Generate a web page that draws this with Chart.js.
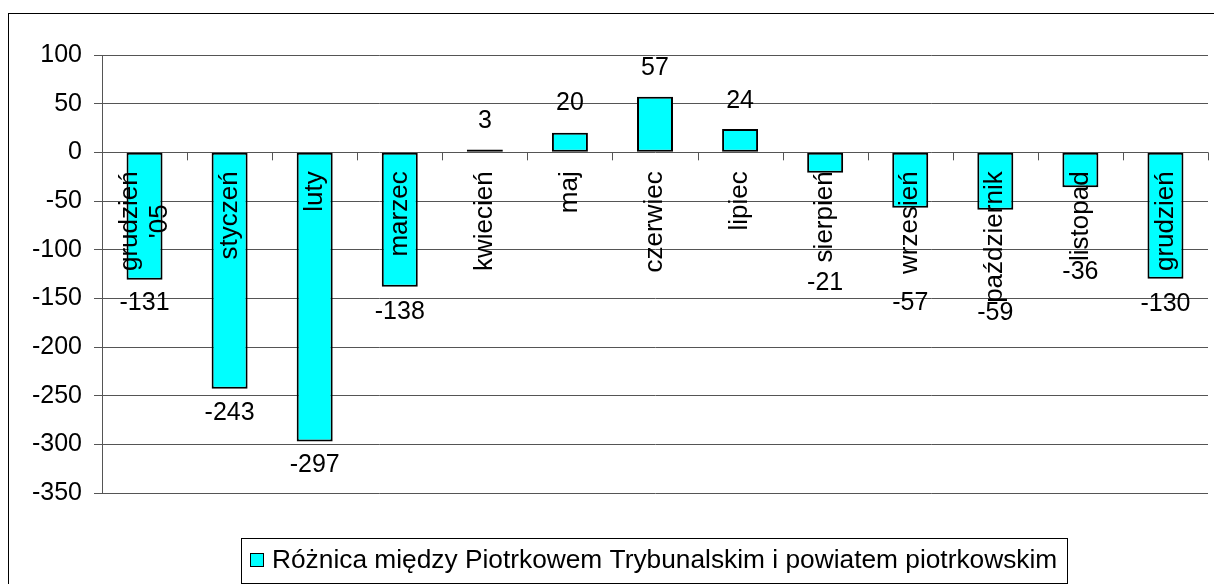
<!DOCTYPE html>
<html><head><meta charset="utf-8">
<script src="https://cdn.jsdelivr.net/npm/chart.js@4.4.1/dist/chart.umd.min.js"></script>
<style>html,body{margin:0;padding:0;background:#fff}#wrap{width:1214px;height:584px;position:relative}</style>
</head><body><div id="wrap"><canvas id="c" width="1214" height="584"></canvas></div>
<script>
// ---- data ----
const categories = [["grudzień", "'05"], "styczeń", "luty", "marzec", "kwiecień", "maj", "czerwiec", "lipiec", "sierpień", "wrzesień", "październik", "listopad", "grudzień"];
const values = [-131, -243, -297, -138, 3, 20, 57, 24, -21, -57, -59, -36, -130];
const seriesLabel = "Różnica między Piotrkowem Trybunalskim i powiatem piotrkowskim";
const yMin = -350, yMax = 100, yStep = 50;

// ---- label placement (pixel offsets of value labels from bar ends) ----
const valueLabelOffsets = [23, 24.5, 24, 25, -28, -29.5, -28.5, -28, 110.5, 95.5, 103.5, 84.5, 25.5];

const FONT = 'Liberation Sans, Arial, sans-serif';
const GRID = '#555555';

const decor = {
  id: 'decor',
  beforeDraw(chart) {
    const ctx = chart.ctx;
    ctx.save();
    ctx.fillStyle = '#fff';
    ctx.fillRect(0, 0, chart.width, chart.height);
    ctx.strokeStyle = '#000';
    ctx.lineWidth = 1;
    ctx.strokeRect(8.5, 13.5, 1400, 800);
    ctx.restore();
  },
  afterDatasetsDraw(chart) {
    const ctx = chart.ctx;
    const xs = chart.scales.x, ys = chart.scales.y;
    const y0 = ys.getPixelForValue(0);
    const n = categories.length;
    ctx.save();
    // category tick marks on zero line
    ctx.strokeStyle = GRID;
    ctx.lineWidth = 1;
    const cw = (xs.right - xs.left) / n;
    ctx.beginPath();
    for (let i = 1; i <= n; i++) {
      const x = Math.round(xs.left + cw * i) + 0.5;
      ctx.moveTo(x, y0);
      ctx.lineTo(x, y0 + 8);
    }
    ctx.stroke();
    // category labels, rotated
    ctx.fillStyle = '#000';
    ctx.font = '26px ' + FONT;
    ctx.textBaseline = 'middle';
    ctx.textAlign = 'center';
    const endY = y0 + 19;
    const lh = 30;
    categories.forEach((c, i) => {
      const lines = Array.isArray(c) ? c : [c];
      const maxW = Math.max(...lines.map(l => ctx.measureText(l).width));
      const cx = xs.getPixelForValue(i);
      const cy = endY + maxW / 2;
      lines.forEach((l, k) => {
        const dx = (k - (lines.length - 1) / 2) * lh;
        ctx.save();
        ctx.translate(cx + dx, cy);
        ctx.rotate(-Math.PI / 2);
        ctx.fillText(l, 0, 0);
        ctx.restore();
      });
    });
    // value labels
    ctx.font = '25px ' + FONT;
    values.forEach((v, i) => {
      const x = xs.getPixelForValue(i);
      const y = ys.getPixelForValue(v) + valueLabelOffsets[i];
      ctx.fillText(String(v), x, y);
    });
    // legend
    const lx = 241.5, ly = 538.5, lw = 826, lhh = 45;
    ctx.fillStyle = '#fff';
    ctx.fillRect(lx, ly, lw, lhh);
    ctx.strokeStyle = '#000';
    ctx.strokeRect(lx, ly, lw, lhh);
    ctx.fillStyle = '#00FFFF';
    ctx.fillRect(250.5, 553.5, 13, 13);
    ctx.strokeRect(250.5, 553.5, 13, 13);
    ctx.fillStyle = '#000';
    ctx.textAlign = 'left';
    ctx.font = '26.3px ' + FONT;
    ctx.fillText(seriesLabel, 272, 561);
    ctx.restore();
  }
};

new Chart(document.getElementById('c'), {
  type: 'bar',
  data: {
    labels: categories,
    datasets: [{
      label: seriesLabel,
      data: values,
      backgroundColor: '#00FFFF',
      borderColor: '#000',
      borderWidth: 2,
      borderSkipped: false,
      barPercentage: 0.423,
      categoryPercentage: 1
    }]
  },
  options: {
    responsive: false,
    devicePixelRatio: 1,
    animation: false,
    layout: { padding: { left: 0, right: 6, top: 55, bottom: 91 } },
    plugins: { legend: { display: false }, title: { display: false }, tooltip: { enabled: false } },
    scales: {
      x: { display: false },
      y: {
        min: yMin, max: yMax,
        ticks: { stepSize: yStep, color: '#000', font: { family: FONT, size: 25 }, padding: 12 },
        grid: { color: GRID, tickLength: 8 },
        border: { color: GRID },
        afterFit(s) { s.width = 102; }
      }
    }
  },
  plugins: [decor]
});
</script>
</body></html>
